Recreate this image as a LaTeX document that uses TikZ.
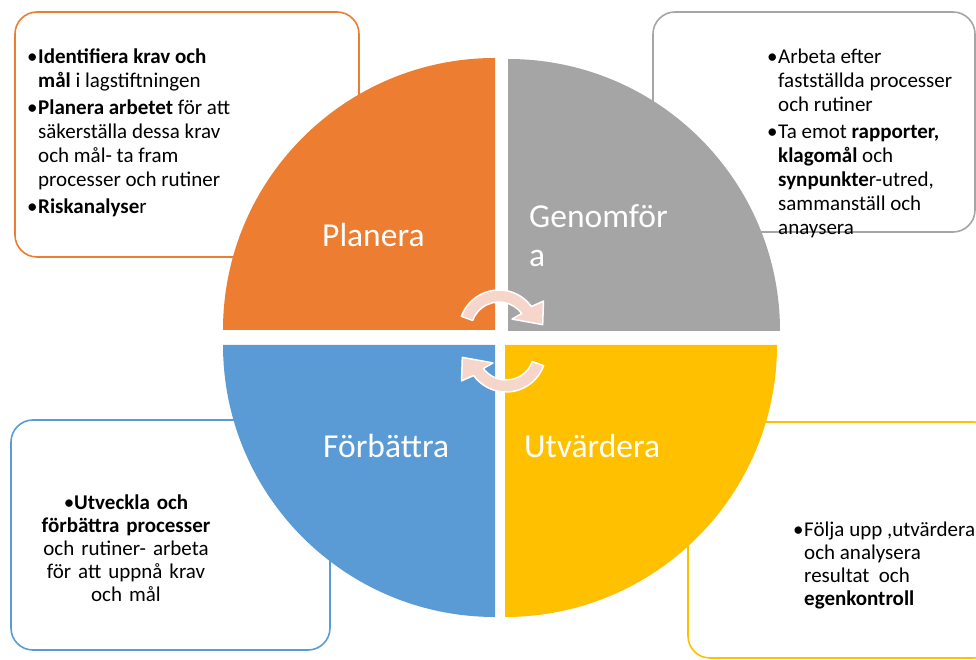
\documentclass[tikz,border=0pt]{standalone}
\usepackage{fontspec}
\setmainfont{Carlito}

\definecolor{planorange}{HTML}{ED7D31}
\definecolor{dogray}{HTML}{A5A5A5}
\definecolor{checkyellow}{HTML}{FFC000}
\definecolor{actblue}{HTML}{5B9BD5}
\definecolor{arrowpink}{RGB}{246,213,203}

\newcommand{\boxitem}[1]{\par\hangindent=11pt\hangafter=1\noindent\makebox[11pt][l]{\textbullet}#1\par\vspace{3pt}}

\begin{document}
\begin{tikzpicture}[x=1pt,y=1pt,
    notebox/.style={line width=1.6pt, rounded corners=22pt},
    phase/.style={text=white, font=\fontsize{33.5}{39}\selectfont, inner sep=0pt,
        anchor=base west, text width=160pt, align=flush left},
    notetext/.style={font=\fontsize{21}{24}\selectfont, inner sep=0pt,
        anchor=base west, text width=215pt, align=flush left},
    cyclearrow/.style={fill=arrowpink, draw=white, line width=1.5pt, line join=round}]
    \clip (0,0) rectangle (976,659);

    % Note boxes
    \draw[notebox, planorange] (15,402) rectangle (359,647);
    \draw[notebox, dogray] (653,427) rectangle (975,647);
    \draw[notebox, actblue] (11,9) rectangle (330,239);
    \draw[notebox, checkyellow] (688,1) rectangle (995,237);

    % Quadrants
    \foreach \col/\cx/\cy/\a in {planorange/495/329/90, dogray/508/328/0,
                                 actblue/495/314/180, checkyellow/505/314/270} {
        \fill[\col] (\cx,\cy) -- ++(\a:272) arc[start angle=\a, delta angle=90, radius=272] -- cycle;
    }

    % Phase labels
    \node[phase] (planera) at (322,412) {Planera};
    \node[phase] (genomfora) at (529,431) {Genomför\newline a};
    \node[phase] (forbattra) at (323,202) {Förbättra};
    \node[phase] (utvardera) at (524,202) {Utvärdera};

    % Cycle arrows
    \foreach \cx/\cy/\rot in {499/329/0, 506/307/180} {
        \begin{scope}[shift={(\cx,\cy)}, rotate=\rot]
            \filldraw[cyclearrow] (160:40) arc[start angle=160, end angle=36, radius=40]
                -- (33:53) -- (7:44) -- (40:17) -- (36:28)
                arc[start angle=36, end angle=160, radius=28] -- cycle;
        \end{scope}
    }

    % Box texts
    \node[notetext] (plantext) at (27,619) {%
        \boxitem{\textbf{Identifiera krav och}\newline\textbf{mål} i lagstiftningen}%
        \boxitem{\textbf{Planera arbetet} för att\newline säkerställa dessa krav\newline och mål- ta fram\newline processer och rutiner}%
        \boxitem{\textbf{Riskanalyse}r}};
    \node[notetext] (dotext) at (767,619) {%
        \boxitem{Arbeta efter\newline fastställda processer\newline och rutiner}%
        \boxitem{Ta emot \textbf{rapporter,}\newline\textbf{klagomål} och\newline\textbf{synpunkte}r-utred,\newline sammanställ och\newline anaysera}};
    \node[notetext, font=\fontsize{21}{23}\selectfont, anchor=base, align=center] (acttext) at (126,150) {%
        \textbullet\textbf{Utveckla och}\\\textbf{förbättra processer}\\och rutiner- arbeta\\för att uppnå krav\\och mål};
    \node[notetext, font=\fontsize{21}{23}\selectfont] (checktext) at (793,146) {%
        \boxitem{Följa upp ,utvärdera\newline och analysera\newline resultat\ \ och\newline\textbf{egenkontroll}}};
\end{tikzpicture}
\end{document}
